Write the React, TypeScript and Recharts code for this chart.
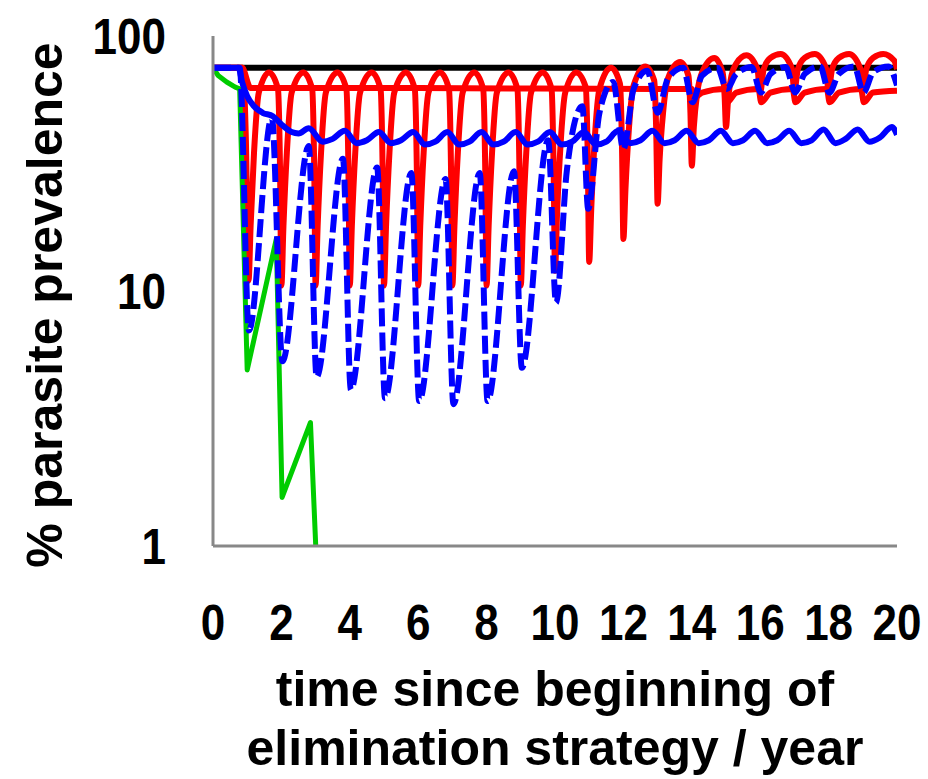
import { Line, LineChart, XAxis, YAxis } from 'recharts'

// time (years) / prevalence (%) pairs
const xTicks = [0, 2, 4, 6, 8, 10, 12, 14, 16, 18, 20]
const yTicks = [1, 10, 100]

const baseline: [number, number][] = [[0, 75], [20, 75]]

const green: [number, number][] = [
  [0, 75], [0.15, 70], [0.4, 66], [0.65, 63], [0.78, 62], [1.0, 4.9],
  [1.85, 16], [2.02, 1.55], [2.85, 3.05], [3.1, 0.5]
]

const blueSolid: [number, number][] = [
  [0, 75], [0.75, 75], [0.85, 66], [1.0, 58], [1.2, 53], [1.45, 50], [1.75, 48.5],
  [2.0, 45], [2.3, 42], [2.5, 41.5], [2.8, 43.5], [3.2, 38.5], [3.5, 39.5],
  [3.85, 42.5], [4.2, 38], [4.5, 39], [4.85, 42], [5.2, 38], [5.5, 39],
  [5.85, 42], [6.2, 37.5], [6.5, 38.5], [6.85, 42], [7.2, 37.5], [7.5, 38.5],
  [7.85, 42], [8.2, 37.5], [8.5, 38.5], [8.85, 42], [9.2, 37.5], [9.5, 38.5],
  [9.85, 42], [10.2, 37.5], [10.5, 38.5], [10.85, 42], [11.2, 37.5], [11.5, 38.5],
  [11.85, 42.5], [12.2, 38], [12.5, 39], [12.85, 42.5], [13.2, 38], [13.5, 39],
  [13.85, 42.5], [14.2, 38], [14.5, 39], [14.85, 42.5], [15.2, 38], [15.5, 39],
  [15.85, 42.5], [16.2, 38], [16.5, 39], [16.85, 42.5], [17.2, 38], [17.5, 39],
  [17.85, 43], [18.2, 38], [18.5, 39.5], [18.85, 43], [19.2, 38.5], [19.5, 40],
  [19.85, 44], [20, 41]
]

const blueDashed: [number, number][] = [
  [0, 75], [0.78, 75], [1.05, 7],
  [1.72, 48], [2.03, 5.3],
  [2.8, 37], [3.03, 4.6],
  [3.8, 33], [4.03, 4.1],
  [4.8, 30.5], [5.03, 3.8],
  [5.8, 29], [6.03, 3.7],
  [6.8, 27.5], [7.03, 3.6],
  [7.8, 29], [8.03, 3.7],
  [8.8, 29.5], [9.03, 5],
  [9.8, 39], [10.03, 9],
  [10.35, 30], [10.8, 53], [10.97, 21],
  [11.3, 50], [11.7, 66], [12.0, 36],
  [12.3, 62], [12.7, 73], [13.0, 50],
  [13.3, 68], [13.75, 75], [14.02, 55],
  [14.3, 70], [14.75, 75], [15.02, 62],
  [15.3, 71], [15.75, 75.5], [16.02, 60],
  [16.3, 71], [16.75, 75.5], [17.02, 60],
  [17.3, 71], [17.75, 76], [18.02, 60],
  [18.3, 71], [18.75, 76], [19.02, 60],
  [19.3, 72], [19.75, 76], [20, 64]
]

const redFlat: [number, number][] = [
  [0, 75], [0.85, 75], [1.1, 62.5], [6, 62.5], [13, 62], [14, 62],
  [14.05, 57], [14.3, 60], [14.95, 62], [15.03, 55], [15.3, 60], [15.95, 62],
  [16.03, 55], [16.3, 60], [16.95, 62], [17.03, 55], [17.3, 60], [17.95, 62],
  [18.03, 55], [18.3, 60], [18.95, 62], [19.03, 55], [19.3, 60], [20, 61]
]

const redDips: [number, number][] = [
  [0, 75], [0.86, 75], [0.96, 40], [1.04, 11], [1.1, 18], [1.2, 35], [1.34, 60], [1.64, 72],
  [1.9, 62], [1.96, 30], [2.0, 10.5], [2.06, 18], [2.16, 35], [2.3, 60], [2.64, 72],
  [2.9, 62], [2.96, 30], [3.0, 10.5], [3.06, 18], [3.16, 35], [3.3, 60], [3.64, 72],
  [3.9, 62], [3.96, 30], [4.0, 10.5], [4.06, 18], [4.16, 35], [4.3, 60], [4.64, 72],
  [4.9, 62], [4.96, 30], [5.0, 10.5], [5.06, 18], [5.16, 35], [5.3, 60], [5.64, 72],
  [5.9, 62], [5.96, 30], [6.0, 10.5], [6.06, 18], [6.16, 35], [6.3, 60], [6.64, 72],
  [6.9, 62], [6.96, 30], [7.0, 10.5], [7.06, 18], [7.16, 35], [7.3, 60], [7.64, 72],
  [7.9, 62], [7.96, 30], [8.0, 10.5], [8.06, 18], [8.16, 35], [8.3, 60], [8.64, 72],
  [8.9, 62], [8.96, 30], [9.0, 10.5], [9.06, 18], [9.16, 35], [9.3, 60], [9.64, 72],
  [9.9, 62], [9.96, 30], [10.0, 12], [10.06, 20], [10.16, 37], [10.3, 60], [10.62, 72],
  [10.9, 63], [10.96, 32], [11.0, 13], [11.06, 21], [11.16, 39], [11.3, 62], [11.64, 75],
  [11.9, 65], [11.96, 36], [12.0, 16], [12.06, 25], [12.16, 43], [12.3, 64], [12.64, 76],
  [12.9, 67], [12.96, 42], [13.0, 22], [13.06, 33], [13.16, 50], [13.3, 68], [13.66, 79],
  [13.9, 70], [13.96, 50], [14.0, 31], [14.06, 44], [14.16, 60], [14.3, 72], [14.66, 82],
  [14.9, 72], [14.96, 58], [15.0, 44], [15.06, 56], [15.16, 70], [15.3, 78], [15.6, 84],
  [15.92, 74], [16.0, 60], [16.1, 74], [16.3, 82], [16.6, 85],
  [16.92, 75], [17.0, 61], [17.1, 74], [17.3, 82], [17.6, 85],
  [17.92, 75], [18.0, 61], [18.1, 74], [18.3, 82], [18.6, 85],
  [18.92, 75], [19.0, 61], [19.1, 74], [19.3, 82], [19.6, 85],
  [19.92, 80], [20, 74]
]

const toRows = (pairs: [number, number][]) => pairs.map(([t, v]) => ({ t, v }))

const font = '"Liberation Sans", Arial, sans-serif'
const plotBottom = 546

function XTick(props: any) {
  const { x, payload } = props
  return (
    <text
      transform={`translate(${x} ${plotBottom + 94}) scale(1 1.15)`}
      textAnchor="middle"
      fontFamily={font}
      fontWeight="bold"
      fontSize={44}
      fill="#000"
    >
      {payload.value}
    </text>
  )
}

function YTick(props: any) {
  const { y, payload } = props
  return (
    <text
      transform={`translate(166 ${y + 18}) scale(1 1.15)`}
      textAnchor="end"
      fontFamily={font}
      fontWeight="bold"
      fontSize={44}
      fill="#000"
    >
      {payload.value}
    </text>
  )
}

export default function App() {
  const lineProps = {
    type: 'monotone' as const,
    dataKey: 'v',
    dot: false,
    activeDot: false,
    isAnimationActive: false,
    strokeWidth: 6,
    strokeLinejoin: 'round' as const
  }

  return (
    <div style={{ position: 'absolute', left: 0, top: 0, width: 928, height: 779, background: '#fff' }}>
      <LineChart width={928} height={779} margin={{ top: 36, right: 31, bottom: 0, left: 0 }}>
        <XAxis
          type="number"
          dataKey="t"
          domain={[0, 20]}
          ticks={xTicks}
          interval={0}
          height={233}
          allowDataOverflow
          tickLine={false}
          axisLine={{ stroke: '#888', strokeWidth: 3 }}
          tick={<XTick />}
        />
        <YAxis
          type="number"
          scale="log"
          domain={[1, 100]}
          ticks={yTicks}
          interval={0}
          width={213}
          allowDataOverflow
          tickLine={false}
          axisLine={{ stroke: '#888', strokeWidth: 3 }}
          tick={<YTick />}
        />
        <Line {...lineProps} data={toRows(baseline)} stroke="#000000" type="linear" />
        <Line {...lineProps} data={toRows(redFlat)} stroke="#FF0000" />
        <Line {...lineProps} data={toRows(redDips)} stroke="#FF0000" />
        <Line {...lineProps} data={toRows(green)} stroke="#00CC00" type="linear" strokeWidth={5} />
        <Line {...lineProps} data={toRows(blueDashed)} stroke="#0000FF" strokeDasharray="18 6" />
        <Line {...lineProps} data={toRows(blueSolid)} stroke="#0000FF" />
        <text x={555} y={706} textAnchor="middle" fontFamily={font} fontWeight="bold" fontSize={50} fill="#000">
          time since beginning of
        </text>
        <text x={555} y={765} textAnchor="middle" fontFamily={font} fontWeight="bold" fontSize={50} fill="#000">
          elimination strategy / year
        </text>
        <text
          x={0}
          y={0}
          transform="translate(62 305) rotate(-90)"
          textAnchor="middle"
          fontFamily={font}
          fontWeight="bold"
          fontSize={50}
          fill="#000"
        >
          % parasite prevalence
        </text>
      </LineChart>
    </div>
  )
}
